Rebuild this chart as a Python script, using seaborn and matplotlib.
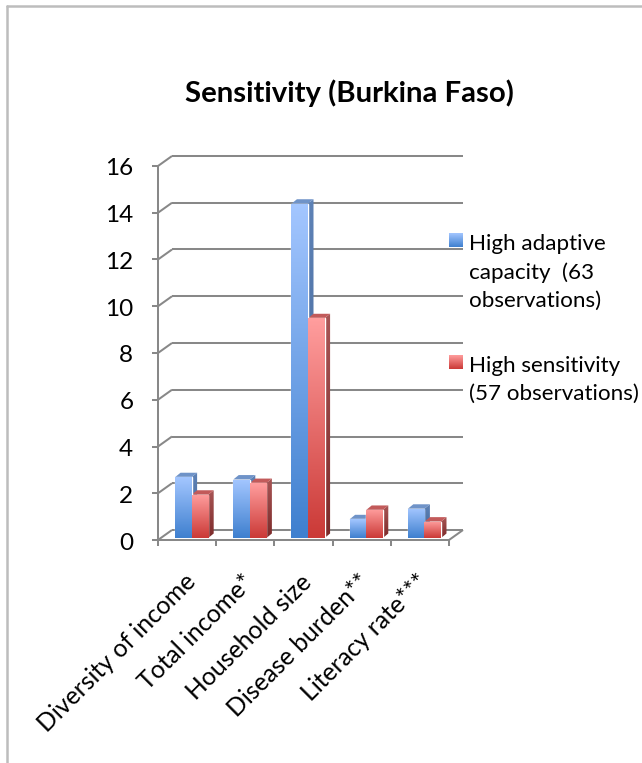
import numpy as np
import pandas as pd
import matplotlib
matplotlib.use("Agg")
import matplotlib.pyplot as plt
from matplotlib.lines import Line2D
from matplotlib.patches import Polygon
from matplotlib.colors import LinearSegmentedColormap
from matplotlib.transforms import ScaledTranslation
import seaborn as sns

categories = ["Diversity of income", "Total income*", "Household size",
              "Disease burden**", "Literacy rate***"]
adaptive = [2.6, 2.5, 14.3, 0.8, 1.25]
sensitivity = [1.85, 2.35, 9.4, 1.2, 0.7]
series_names = ["High adaptive\ncapacity  (63\nobservations)",
                "High sensitivity\n(57 observations)"]
y_ticks = [0, 2, 4, 6, 8, 10, 12, 14, 16]

W, H = 642, 763
sns.set_theme(style="white")
plt.rcParams["font.family"] = ["Lato", "DejaVu Sans"]

fig = plt.figure(figsize=(W / 100, H / 100), dpi=100, facecolor="white")

# Bars sit on a plane slightly behind the front of the chart box.
ax_l, ax_r, ax_top, ax_bot = 162.5, 453.5, 164.0, 538.0
ax = fig.add_axes([ax_l / W, 1 - ax_bot / H, (ax_r - ax_l) / W, (ax_bot - ax_top) / H])

df = pd.DataFrame({
    "category": categories * 2,
    "value": adaptive + sensitivity,
    "series": ["adaptive"] * 5 + ["sensitivity"] * 5,
})
sns.barplot(data=df, x="category", y="value", hue="series", order=categories,
            palette=["#6fa3e6", "#e86a6a"], width=0.57, gap=0, legend=False,
            saturation=1, ax=ax)
ax.set_xlim(-0.5, 4.5)
ax.set_ylim(0, 16)
ax.set_xlabel("")
ax.set_ylabel("")
sns.despine(ax=ax, left=True, bottom=True)
ax.patch.set_alpha(0)

unit_x = 5.0 / (ax_r - ax_l)   # data units per pixel, horizontally
unit_y = 16.0 / (ax_bot - ax_top)  # data units per pixel, vertically


def shifted(x, y, dx, dy):
    """Data point moved by dx, dy pixels (dy positive = upward)."""
    return x + dx * unit_x, y + dy * unit_y


GRID = "#888888"
LW = 1.45
front = (-4.5, -2.0)
back = (9.5, 8.0)
x0, x1 = -0.5, 4.5


def seg(p, q, z=1):
    ax.add_line(Line2D([p[0], q[0]], [p[1], q[1]], color=GRID, lw=LW, zorder=z,
                       clip_on=False, solid_capstyle="butt"))


for v in y_ticks:
    seg(shifted(x0, v, *back), shifted(x1, v, *back))
    seg(shifted(x0, v, *front), shifted(x0, v, *back))
    seg(shifted(x0, v, front[0] - 6, front[1]), shifted(x0, v, *front))

seg(shifted(x0, 0, *front), shifted(x0, 16, *front))
seg(shifted(x0, 0, *front), shifted(x1, 0, *front))
seg(shifted(x1, 0, *front), shifted(x1, 0, *back))
for i in range(6):
    xe = x0 + i
    seg(shifted(xe, 0, *front), shifted(xe, 0, front[0], front[1] - 6))

blue_map = LinearSegmentedColormap.from_list("b", ["#3f80cf", "#a3c6ff"])
red_map = LinearSegmentedColormap.from_list("r", ["#cb3a37", "#ff9d9d"])
ramp = np.linspace(1, 0, 64).reshape(-1, 1)
DX, DY = 5.5, 4.5
styles = [(blue_map, "#5e82b6", "#3f6396", "#6f93c8"),
          (red_map, "#a85555", "#7c2b2a", "#c25a5a")]

for container, (cmap, side_top, side_bot, cap) in zip(ax.containers, styles):
    for bar in container:
        xa, xb = bar.get_x(), bar.get_x() + bar.get_width()
        top = bar.get_height()
        # Shaded front face
        img = ax.imshow(ramp, cmap=cmap, vmin=0, vmax=1, aspect="auto",
                        extent=(xa, xb, 0, top), zorder=3, interpolation="bilinear")
        img.set_clip_path(bar)
        bar.set_zorder(2.9)
        # Side face, darkening towards the floor
        side = Polygon([(xb, 0), (xb, top), shifted(xb, top, DX, DY), shifted(xb, 0, DX, DY)],
                       closed=True, transform=ax.transData, fc="none", ec="none")
        ax.add_patch(side)
        side_map = LinearSegmentedColormap.from_list("s", [side_bot, side_top])
        img_s = ax.imshow(ramp, cmap=side_map, vmin=0, vmax=1, aspect="auto",
                          extent=(xb, xb + DX * unit_x, 0, top + DY * unit_y),
                          zorder=2.5, interpolation="bilinear")
        img_s.set_clip_path(side)
        # Top face
        ax.add_patch(Polygon([(xa, top), (xb, top), shifted(xb, top, DX, DY), shifted(xa, top, DX, DY)],
                             closed=True, fc=cap, ec="none", zorder=2.6))

ax.set_xlim(-0.5, 4.5)
ax.set_ylim(0, 16)

ax.set_yticks(y_ticks)
ax.set_yticklabels([str(v) for v in y_ticks], fontsize=17.5, color="black")
ax.tick_params(axis="y", length=0, pad=21)
nudge_y = ScaledTranslation(0, -3 / 100, fig.dpi_scale_trans)
for lab in ax.get_yticklabels():
    lab.set_transform(lab.get_transform() + nudge_y)

ax.set_xticks(range(5))
ax.set_xticklabels(categories, rotation=45, ha="right", rotation_mode="anchor",
                   fontsize=17.8, color="black")
ax.tick_params(axis="x", length=0, pad=23)
nudge_x = ScaledTranslation(-8 / 100, 0, fig.dpi_scale_trans)
for lab in ax.get_xticklabels():
    lab.set_transform(lab.get_transform() + nudge_x)

fig.text(349.5 / W, 1 - 93 / H, "Sensitivity (Burkina Faso)", ha="center", va="center",
         fontsize=21.2, fontweight="bold", color="black")

# Legend swatches and labels
for (sw_top, cmap, label) in [(233, blue_map, series_names[0]), (355, red_map, series_names[1])]:
    sw = fig.add_axes([449 / W, 1 - (sw_top + 14) / H, 14 / W, 14 / H])
    sw.imshow(ramp, cmap=cmap, vmin=0, vmax=1, aspect="auto", interpolation="bilinear")
    sw.axis("off")
    fig.text(469 / W, 1 - (sw_top + 1) / H, label, ha="left", va="top", fontsize=16.1,
             linespacing=1.5, color="black")

# Thin rule framing the page at the top and left
border = "#bdbdbd"
fig.add_artist(Line2D([7 / W, 1], [1 - 6 / H, 1 - 6 / H], color=border, lw=1.8))
fig.add_artist(Line2D([7 / W, 7 / W], [0, 1 - 6 / H], color=border, lw=1.8))

fig.savefig("out.png", dpi=100)
